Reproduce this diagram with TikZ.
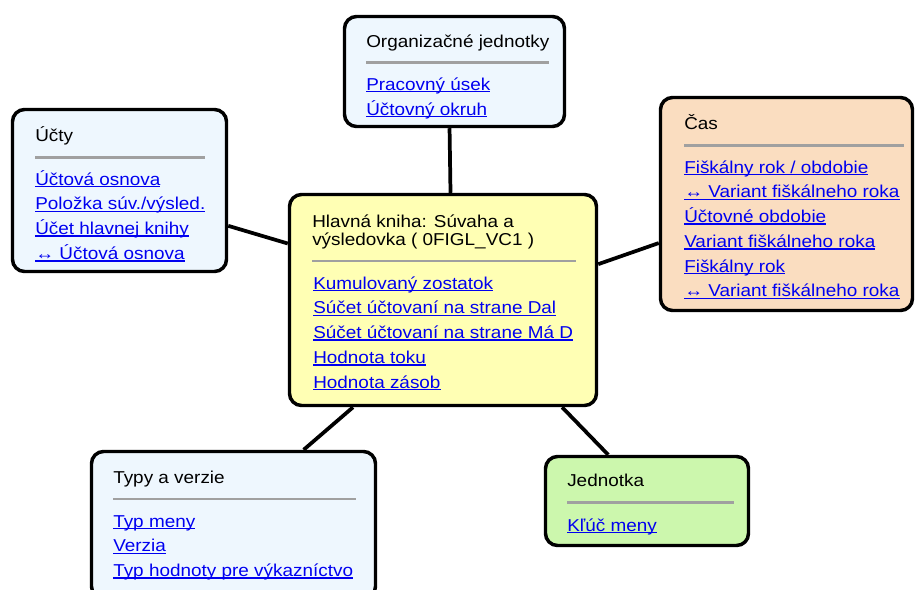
\documentclass[tikz,border=0pt]{standalone}
\usepackage{fontspec}
\setmainfont{Liberation Sans}[FakeStretch=1.1]
\usepackage{tikz}

\definecolor{paleblue}{HTML}{EEF7FE}
\definecolor{paleyellow}{HTML}{FFFFB4}
\definecolor{peach}{HTML}{FADDC0}
\definecolor{palegreen}{HTML}{CCF7AD}
\definecolor{rulegray}{HTML}{A0A0A0}
\definecolor{linkblue}{HTML}{0000F0}

\newlength\lnkw
\newcommand\lnk[1]{\settowidth\lnkw{#1}\makebox[0pt][l]{\rule[-1.8pt]{\lnkw}{1.2pt}}#1}

\tikzset{
  box/.style={draw, line width=2.6pt, rounded corners=9pt, inner sep=0pt},
  sz/.style 2 args={minimum width=#1*0.75pt, minimum height=#2*0.75pt},
  ttl/.style={anchor=base west, inner sep=0pt, font=\fontsize{12.9pt}{16pt}\selectfont},
  lnkt/.style={ttl, text=linkblue},
  sep/.style={draw=rulegray, line width=2.2pt},
  conn/.style={line width=2.8pt}
}

\begin{document}
\begin{tikzpicture}[x=0.75pt, y=-0.75pt]
            \useasboundingbox (0,0) rectangle (916,589);
            % boxes
            \node[box, sz={220}{110}, fill=paleblue] (org) at (454.5,71.5) {};
            \node[box, sz={214}{162}, fill=paleblue] (ucty) at (119.5,190.5) {};
            \node[box, sz={307}{211}, fill=paleyellow] (hk) at (443,300) {};
            \node[box, sz={252}{213}, fill=peach] (cas) at (786.5,204) {};
            \node[box, sz={284}{147}, fill=paleblue] (typy) at (233.5,525) {};
            \node[box, sz={203}{89}, fill=palegreen] (jedn) at (647,501) {};
            % connectors
            \draw[conn] (org.-95.6) -- (hk.86.8);
            \draw[conn] (ucty.-18.6) -- (hk.160.8);
            \draw[conn] (hk.13.8) -- (cas.-163.4);
            \draw[conn] (hk.-130.4) -- (typy.47.6);
            \draw[conn] (hk.-42) -- (jedn.130.3);
            % Organizacne jednotky
            \node[ttl] (orgT) at (366,47) {Organizačné jednotky};
            \draw[sep] (366,62.5) -- (549,62.5);
            \node[lnkt] (orgL1) at (366,90) {\lnk{Pracovný úsek}};
            \node[lnkt] (orgL2) at (366,115) {\lnk{Účtovný okruh}};
            % Ucty
            \node[ttl] (uctyT) at (35,141) {Účty};
            \draw[sep] (35,157.5) -- (205,157.5);
            \node[lnkt] (uctyL1) at (35,185) {\lnk{Účtová osnova}};
            \node[lnkt] (uctyL2) at (35,209.75) {\lnk{Položka súv./výsled.}};
            \node[lnkt] (uctyL3) at (35,234.5) {\lnk{Účet hlavnej knihy}};
            \node[lnkt] (uctyL4) at (35,259.25) {\lnk{↔ Účtová osnova}};
            % Hlavna kniha
            \node[ttl] (hkT1) at (312,227) {Hlavná kniha: Súvaha a};
            \node[ttl] (hkT2) at (312,245) {výsledovka ( 0FIGL\_VC1 )};
            \draw[sep] (312,261) -- (576,261);
            \node[lnkt] (hkL1) at (313,289) {\lnk{Kumulovaný zostatok}};
            \node[lnkt] (hkL2) at (313,313.75) {\lnk{Súčet účtovaní na strane Dal}};
            \node[lnkt] (hkL3) at (313,338.5) {\lnk{Súčet účtovaní na strane Má D}};
            \node[lnkt] (hkL4) at (313,363.25) {\lnk{Hodnota toku}};
            \node[lnkt] (hkL5) at (313,388) {\lnk{Hodnota zásob}};
            % Cas
            \node[ttl] (casT) at (684,129) {Čas};
            \draw[sep] (684,145.5) -- (904,145.5);
            \node[lnkt] (casL1) at (684,173) {\lnk{Fiškálny rok / obdobie}};
            \node[lnkt] (casL2) at (684,197.75) {\lnk{↔ Variant fiškálneho roka}};
            \node[lnkt] (casL3) at (684,222.5) {\lnk{Účtovné obdobie}};
            \node[lnkt] (casL4) at (684,247.25) {\lnk{Variant fiškálneho roka}};
            \node[lnkt] (casL5) at (684,272) {\lnk{Fiškálny rok}};
            \node[lnkt] (casL6) at (684,296.75) {\lnk{↔ Variant fiškálneho roka}};
            % Typy a verzie
            \node[ttl] (typyT) at (113,483) {Typy a verzie};
            \draw[sep] (113,499) -- (356,499);
            \node[lnkt] (typyL1) at (113,527) {\lnk{Typ meny}};
            \node[lnkt] (typyL2) at (113,551.75) {\lnk{Verzia}};
            \node[lnkt] (typyL3) at (113,576.5) {\lnk{Typ hodnoty pre výkazníctvo}};
            % Jednotka
            \node[ttl] (jednT) at (567,486) {Jednotka};
            \draw[sep] (567,502.5) -- (734,502.5);
            \node[lnkt] (jednL1) at (567,531) {\lnk{Kľúč meny}};
        \end{tikzpicture}
\end{document}
